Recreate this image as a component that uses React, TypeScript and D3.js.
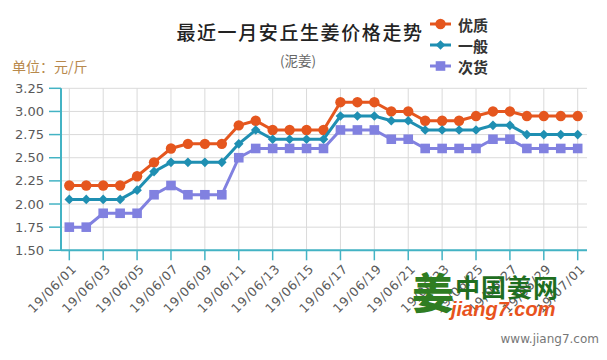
import React from 'react';
import * as d3 from 'd3';

const days = Array.from({ length: 31 }, (_, i) => i);
const tickLabels = ['19/06/01','19/06/03','19/06/05','19/06/07','19/06/09','19/06/11','19/06/13','19/06/15','19/06/17','19/06/19','19/06/21','19/06/23','19/06/25','19/06/27','19/06/29','19/07/01'];
const yTicks = [1.5, 1.75, 2.0, 2.25, 2.5, 2.75, 3.0, 3.25];

const premium = [2.2,2.2,2.2,2.2,2.3,2.45,2.6,2.65,2.65,2.65,2.85,2.9,2.8,2.8,2.8,2.8,3.1,3.1,3.1,3.0,3.0,2.9,2.9,2.9,2.95,3.0,3.0,2.95,2.95,2.95,2.95];
const normal = [2.05,2.05,2.05,2.05,2.15,2.35,2.45,2.45,2.45,2.45,2.65,2.8,2.7,2.7,2.7,2.7,2.95,2.95,2.95,2.9,2.9,2.8,2.8,2.8,2.8,2.85,2.85,2.75,2.75,2.75,2.75];
const inferior = [1.75,1.75,1.9,1.9,1.9,2.1,2.2,2.1,2.1,2.1,2.5,2.6,2.6,2.6,2.6,2.6,2.8,2.8,2.8,2.7,2.7,2.6,2.6,2.6,2.6,2.7,2.7,2.6,2.6,2.6,2.6];

const seriesNames = ['优质', '一般', '次货'];
const colors = ['#e5561e', '#1f8fb2', '#8181e0'];
const AXIS = '#43b3c4';
const GRID = '#dadada';
const CJK = '"Noto Sans CJK SC", sans-serif';
const SANS = '"DejaVu Sans", Verdana, sans-serif';

export default function App() {
  const W = 607, H = 360;
  const left = 61, right = 587, top = 88.3, bottom = 250.3;
  const x = d3.scaleLinear().domain([0, 30]).range([69.3, 577.7]);
  const y = d3.scaleLinear().domain([1.5, 3.25]).range([bottom, top]);
  const line = d3.line<number>().x((_, i) => x(i)).y((v) => y(v));
  const data = [premium, normal, inferior];

  const marker = (s: number, cx: number, cy: number, key: any) => {
    if (s === 0) return <circle key={key} cx={cx} cy={cy} r={5.2} fill={colors[0]} />;
    if (s === 1) return <path key={key} d={`M${cx},${cy - 4.8}L${cx + 4.8},${cy}L${cx},${cy + 4.8}L${cx - 4.8},${cy}Z`} fill={colors[1]} />;
    return <rect key={key} x={cx - 4.8} y={cy - 4.8} width={9.6} height={9.6} fill={colors[2]} />;
  };

  return (
    <svg width={W} height={H} style={{ display: 'block', position: 'absolute', left: 0, top: 0, background: '#fff' }}>
      <rect width={W} height={H} fill="#fff" />
      {/* title */}
      <text x={300} y={31} textAnchor="middle" dominantBaseline="central" fontFamily={CJK} fontSize={19} fontWeight={500} letterSpacing={1.6} fill="#222">最近一月安丘生姜价格走势</text>
      <text x={298} y={60} textAnchor="middle" dominantBaseline="central" fontFamily={CJK} fontSize={13.5} fill="#666">(泥姜)</text>
      <text x={12} y={66} dominantBaseline="central" fontFamily={CJK} fontSize={14} fill="#b8894c">单位：元/斤</text>

      {/* legend */}
      {seriesNames.map((n, s) => {
        const ly = 24 + s * 21;
        return (
          <g key={n}>
            <line x1={430} x2={451} y1={ly} y2={ly} stroke={colors[s]} strokeWidth={3} />
            {marker(s, 440.5, ly, 'm')}
            <text x={458} y={ly} dominantBaseline="central" fontFamily={CJK} fontSize={15} fontWeight={700} fill="#333">{n}</text>
          </g>
        );
      })}

      {/* grid */}
      {yTicks.map((t) => (
        <g key={t}>
          <line x1={left} x2={right} y1={y(t)} y2={y(t)} stroke={GRID} strokeWidth={1} />
          <line x1={49} x2={left} y1={y(t)} y2={y(t)} stroke={AXIS} strokeWidth={1.5} />
          <text x={44} y={y(t)} textAnchor="end" dominantBaseline="central" fontFamily={SANS} fontSize={13} fill="#5a5a5a">{t.toFixed(2)}</text>
        </g>
      ))}
      {tickLabels.map((lab, k) => {
        const tx = x(k * 2);
        return (
          <g key={lab}>
            <line x1={tx} x2={tx} y1={top} y2={bottom} stroke={GRID} strokeWidth={1} />
            <line x1={tx} x2={tx} y1={bottom} y2={bottom + 10} stroke={AXIS} strokeWidth={1.5} />
            <text transform={`translate(${tx + 5},${bottom + 16}) rotate(-45)`} textAnchor="end" dominantBaseline="central" fontFamily={SANS} fontSize={12.5} letterSpacing={0.8} fill="#5a5a5a">{lab}</text>
          </g>
        );
      })}
      <line x1={left} x2={left} y1={top} y2={bottom} stroke={AXIS} strokeWidth={2} />
      <line x1={left} x2={right} y1={bottom} y2={bottom} stroke={AXIS} strokeWidth={2} />

      {/* series */}
      {data.map((arr, s) => (
        <g key={s}>
          <path d={line(arr) || ''} fill="none" stroke={colors[s]} strokeWidth={3} />
          {arr.map((v, i) => marker(s, x(days[i]), y(v), i))}
        </g>
      ))}

      {/* watermark */}
      <text x={412} y={309} fontFamily={CJK} fontSize={42} fontWeight={900} fill="#2f7d22">姜</text>
      <text x={455} y={286} dominantBaseline="central" fontFamily={CJK} fontSize={25} fontWeight={700} fill="#1f6e1f" letterSpacing={1}>中国姜网</text>
      <text x={451} y={309} dominantBaseline="central" fontFamily="Arial, 'Liberation Sans', sans-serif" fontSize={20} fontWeight={700} fontStyle="italic" fill="#e8531d">jiang7.com</text>
      <text x={599} y={339} textAnchor="end" dominantBaseline="central" fontFamily={SANS} fontSize={12} fill="#777">www.jiang7.com</text>
    </svg>
  );
}
